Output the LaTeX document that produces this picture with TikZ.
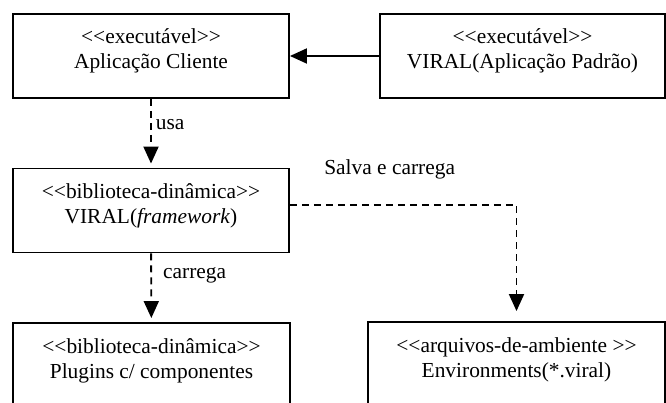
\documentclass[tikz,border=0pt]{standalone}
\usepackage{fontspec}
\setmainfont{Liberation Serif}
\usetikzlibrary{arrows.meta,positioning}
\tikzset{bx/.append style={draw, line width=1.9pt, inner sep=0pt, align=center, minimum height=84pt, text height=55pt, text depth=29pt}}
\tikzset{da/.append style={line width=1.9pt, dash pattern=on 7pt off 5pt, -{Triangle[length=17pt,width=15pt]}}}
\tikzset{sa/.append style={line width=1.9pt, -{Triangle[length=17pt,width=15pt]}}}

\begin{document}
\begin{tikzpicture}[x=1pt, y=-1pt, font=\fontsize{21.4}{25}\selectfont]
                \useasboundingbox (0,0) rectangle (666,403);
                \clip (0,0) rectangle (666,403);
                % caixas
                \node[bx, minimum width=276pt] (cliente) at (151,56) {<{}<executável>{}>\\Aplicação Cliente};
                \node[bx, minimum width=285pt] (padrao) at (522.5,56) {<{}<executável>{}>\\VIRAL(Aplicação Padrão)};
                \node[bx, minimum width=276pt] (framework) at (151,210.5) {<{}<biblioteca-dinâmica>{}>\\VIRAL(\textit{framework})};
                \node[bx, minimum width=277pt] (plugins) at (151.5,365) {<{}<biblioteca-dinâmica>{}>\\Plugins c/ componentes};
                \node[bx, minimum width=297pt] (ambiente) at (516.5,364) {<{}<arquivos-de-ambiente >{}>\\Environments(*.viral)};
                \draw[sa] (padrao) -- (cliente);
                \draw[da, shorten >=4pt] (cliente) -- node[right, pos=0.37, inner sep=4pt]{usa} (framework);
                \draw[da, shorten >=4pt] (framework) -- node[right, pos=0.32, inner sep=4pt, xshift=7pt]{carrega} (plugins);
                \draw[da, shorten >=10pt] ([yshift=5.5pt]framework.east) -| node[above=22pt, pos=0.22]{Salva e carrega} (ambiente.north);
            \end{tikzpicture}
\end{document}
